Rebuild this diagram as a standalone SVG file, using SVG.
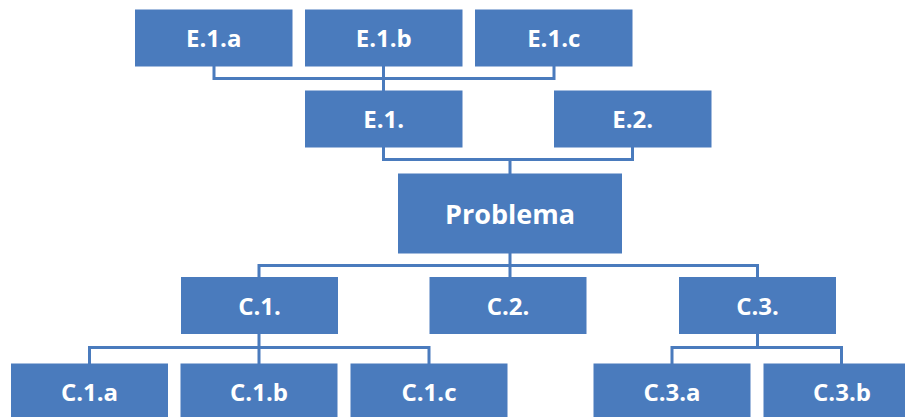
<svg xmlns="http://www.w3.org/2000/svg" width="905" height="417" viewBox="0 0 905 417">
<style>
.box{fill:#4a7bbd}
.t{fill:#ffffff;font-family:"Open Sans","Noto Sans",sans-serif;font-weight:bold;font-size:24px;text-anchor:middle}
.big{font-size:27px}
.c{fill:none;stroke:#4a7bbd;stroke-width:3}
</style>
<rect width="905" height="417" fill="#ffffff"/>
<g id="connectors">
<path class="c" d="M214 66 V78.5 H554 V66 M383.5 66 V91"/>
<path class="c" d="M383.5 147 V159.5 H632.5 V147 M510 159.5 V174"/>
<path class="c" d="M510 253 V277.5 M259 277.5 V265.5 H757.5 V277.5"/>
<path class="c" d="M259 334 V347.5 M89.5 364 V347.5 H429 V364 M259 347.5 V364"/>
<path class="c" d="M757.5 334 V347.5 M672 364 V347.5 H841.5 V364"/>
</g>
<g id="E1a"><rect class="box" x="135" y="9.5" width="157.5" height="57"/><text class="t" x="213.75" y="46.5">E.1.a</text></g>
<g id="E1b"><rect class="box" x="305" y="9.5" width="157.5" height="57"/><text class="t" x="383.75" y="46.5">E.1.b</text></g>
<g id="E1c"><rect class="box" x="475" y="9.5" width="157.5" height="57"/><text class="t" x="553.75" y="46.5">E.1.c</text></g>
<g id="E1"><rect class="box" x="305" y="90.5" width="157.5" height="57"/><text class="t" x="383.75" y="127.5">E.1.</text></g>
<g id="E2"><rect class="box" x="554" y="90.5" width="157.5" height="57"/><text class="t" x="632.75" y="127.5">E.2.</text></g>
<g id="Problema"><rect class="box" x="398" y="173.5" width="224" height="80"/><text class="t big" x="510" y="223.5">Problema</text></g>
<g id="C1"><rect class="box" x="181" y="277" width="157" height="57"/><text class="t" x="259.5" y="314.5">C.1.</text></g>
<g id="C2"><rect class="box" x="429.5" y="277" width="157" height="57"/><text class="t" x="508" y="314.5">C.2.</text></g>
<g id="C3"><rect class="box" x="679" y="277" width="157" height="57"/><text class="t" x="757.5" y="314.5">C.3.</text></g>
<g id="C1a"><rect class="box" x="11" y="363.5" width="157" height="57"/><text class="t" x="89.5" y="400.5">C.1.a</text></g>
<g id="C1b"><rect class="box" x="180.5" y="363.5" width="157" height="57"/><text class="t" x="259" y="400.5">C.1.b</text></g>
<g id="C1c"><rect class="box" x="350.5" y="363.5" width="157" height="57"/><text class="t" x="429" y="400.5">C.1.c</text></g>
<g id="C3a"><rect class="box" x="593.5" y="363.5" width="157" height="57"/><text class="t" x="672" y="400.5">C.3.a</text></g>
<g id="C3b"><rect class="box" x="763.5" y="363.5" width="157" height="57"/><text class="t" x="842" y="400.5">C.3.b</text></g>
</svg>
